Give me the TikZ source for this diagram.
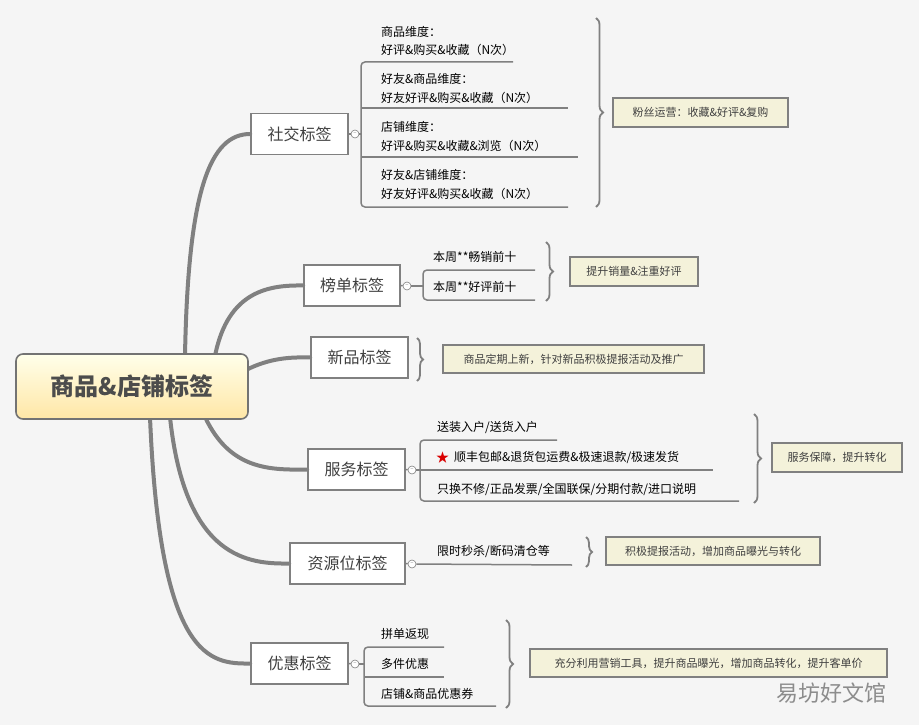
\documentclass[tikz,border=0pt]{standalone}
\usepackage{fontspec}
\setmainfont{Noto Sans CJK SC}
\usetikzlibrary{decorations.pathreplacing,shapes.geometric}
\definecolor{bg}{HTML}{F5F5F5}
\definecolor{edge}{HTML}{808080}
\definecolor{notefill}{HTML}{F4F2DA}
\begin{document}
\begin{tikzpicture}[x=1pt,y=-1pt,
  tagbox/.style={draw=edge,line width=1.6pt,fill=white,inner sep=0pt,font=\fontsize{16}{16}\selectfont,text=black!75},
  note/.style={draw=edge,line width=1.6pt,fill=notefill,inner sep=0pt,font=\fontsize{11}{11}\selectfont,text=black!75},
  item/.style={anchor=west,inner sep=0pt,font=\fontsize{12}{12}\selectfont},
  branch/.style={draw=edge,line width=4pt,line cap=round},
  uline/.style={draw=edge,line width=1.5pt,rounded corners=4pt},
  tog/.style={circle,draw=edge,fill=white,line width=0.6pt,minimum size=8pt,inner sep=0pt,font=\fontsize{6}{6}\selectfont,text=edge},
  brc/.style={draw=edge,line width=1.8pt,decorate,decoration={brace,amplitude=7pt}}]
\fill[bg] (0,0) rectangle (919,725);
\useasboundingbox (0,0) rectangle (919,725);
% branches
\coordinate (s1) at (185,356);
\coordinate (s2) at (215,356);
\coordinate (s3) at (246,370);
\coordinate (s4) at (205,417);
\coordinate (s5) at (170,417);
\coordinate (s6) at (150,417);
\node[tagbox,minimum width=97pt,minimum height=41pt] (social) at (299.5,134) {社交标签};
\node[tagbox,minimum width=96pt,minimum height=41pt] (rank) at (352,285.5) {榜单标签};
\node[tagbox,minimum width=97pt,minimum height=41pt] (new) at (359.5,357.5) {新品标签};
\node[tagbox,minimum width=97pt,minimum height=41pt] (serv) at (356.5,469.5) {服务标签};
\node[tagbox,minimum width=115pt,minimum height=41pt] (res) at (347.5,563.5) {资源位标签};
\node[tagbox,minimum width=97pt,minimum height=41pt] (disc) at (299.5,663.5) {优惠标签};
\draw[branch] (s1) .. controls (188,190) and (210,134) .. (social.west);
\draw[branch] (s2) .. controls (228,290) and (270,285) .. (rank.west);
\draw[branch] (s3) .. controls (270,358) and (290,357) .. (new.west);
\draw[branch] (s4) .. controls (230,470) and (270,470) .. (serv.west);
\draw[branch] (s5) .. controls (185,560) and (250,564) .. (res.west);
\draw[branch] (s6) .. controls (160,660) and (210,664) .. (disc.west);
\node[draw=edge!90!black,line width=1.6pt,rounded corners=7pt,top color=yellow!8,bottom color=yellow!45!orange!35,minimum width=232pt,minimum height=65pt,font=\fontsize{24}{24}\selectfont\bfseries,text=black!70] (root) at (132,386.5) {商品\&店铺标签};
% social items
\node[tog] (t1) at (355,134) {--};
\draw[uline] (social.east) -- (t1);
\draw[uline] (513,62) -- (361,62) -- (361,207) -- (568,207);
\draw[uline] (t1) -- (361,134);
\draw[uline] (361,108) -- (568,108);
\draw[uline] (361,157) -- (578,157);
\node[item] (i1a) at (381,32) {商品维度：};
\node[item] (i1b) at (381,50) {好评\&购买\&收藏（N次）};
\node[item] (i2a) at (381,79) {好友\&商品维度：};
\node[item] (i2b) at (381,98) {好友好评\&购买\&收藏（N次）};
\node[item] (i3a) at (381,127) {店铺维度：};
\node[item] (i3b) at (381,146) {好评\&购买\&收藏\&浏览（N次）};
\node[item] (i4a) at (381,175) {好友\&店铺维度：};
\node[item] (i4b) at (381,194) {好友好评\&购买\&收藏（N次）};
\coordinate (b1t) at (596,18); \coordinate (b1b) at (596,207);
\draw[brc] (b1t) -- (b1b);
\node[note,minimum width=175pt,minimum height=29pt] (n1) at (700.5,112.5) {粉丝运营：收藏\&好评\&复购};
% rank
\node[tog] (t2) at (407,286) {--};
\draw[uline] (rank.east) -- (t2);
\draw[uline] (535,270) -- (423,270) -- (423,300) -- (535,300);
\draw[uline] (t2) -- (423,286);
\node[item] (r1) at (433,257) {本周**畅销前十};
\node[item] (r2) at (433,287) {本周**好评前十};
\coordinate (b2t) at (546,242); \coordinate (b2b) at (546,301);
\draw[brc] (b2t) -- (b2b);
\node[note,minimum width=128pt,minimum height=29pt] (n2) at (634,271.5) {提升销量\&注重好评};
% new
\coordinate (b3t) at (417,338); \coordinate (b3b) at (417,381);
\draw[brc,decoration={brace,amplitude=6pt}] (b3t) -- (b3b);
\node[note,minimum width=261pt,minimum height=28pt] (n3) at (573.5,359) {商品定期上新，针对新品积极提报活动及推广};
% service
\node[tog] (t4) at (412,470) {--};
\draw[uline] (serv.east) -- (t4);
\draw[uline] (557,440) -- (420,440) -- (420,501) -- (739,501);
\draw[uline] (t4) -- (420,470);
\draw[uline] (420,470) -- (713,470);
\node[item] (v1) at (437,428) {送装入户/送货入户};
\node[item,text=red!85!black,font=\fontsize{13}{13}\selectfont] (star) at (436,458) {★};
\node[item] (v2) at (454,458) {顺丰包邮\&退货包运费\&极速退款/极速发货};
\node[item] (v3) at (437,489) {只换不修/正品发票/全国联保/分期付款/进口说明};
\coordinate (b4t) at (754,414); \coordinate (b4b) at (754,503);
\draw[brc] (b4t) -- (b4b);
\node[note,minimum width=130pt,minimum height=29pt] (n4) at (837,457.5) {服务保障，提升转化};
% resource
\node[tog] (t5) at (412,564) {--};
\draw[uline] (res.east) -- (t5);
\draw[uline] (t5) -- (572,565);
\node[item] (x1) at (437,551) {限时秒杀/断码清仓等};
\coordinate (b5t) at (586,537); \coordinate (b5b) at (586,567);
\draw[brc,decoration={brace,amplitude=6pt}] (b5t) -- (b5b);
\node[note,minimum width=214pt,minimum height=28pt] (n5) at (713,551) {积极提报活动，增加商品曝光与转化};
% discount
\node[tog] (t6) at (355,664) {--};
\draw[uline] (disc.east) -- (t6);
\draw[uline] (444,647) -- (364,647) -- (364,706) -- (496,706);
\draw[uline] (t6) -- (364,664);
\draw[uline] (364,677) -- (444,677);
\node[item] (d1) at (381,634) {拼单返现};
\node[item] (d2) at (381,664) {多件优惠};
\node[item] (d3) at (381,694) {店铺\&商品优惠券};
\coordinate (b6t) at (506,620); \coordinate (b6b) at (506,708);
\draw[brc] (b6t) -- (b6b);
\node[note,minimum width=357pt,minimum height=28pt] (n6) at (708.5,663) {充分利用营销工具，提升商品曝光，增加商品转化，提升客单价};
\node[font=\fontsize{22}{22}\selectfont,text=black!45,inner sep=0pt] (wm) at (831,693) {易坊好文馆};
\end{tikzpicture}
\end{document}
